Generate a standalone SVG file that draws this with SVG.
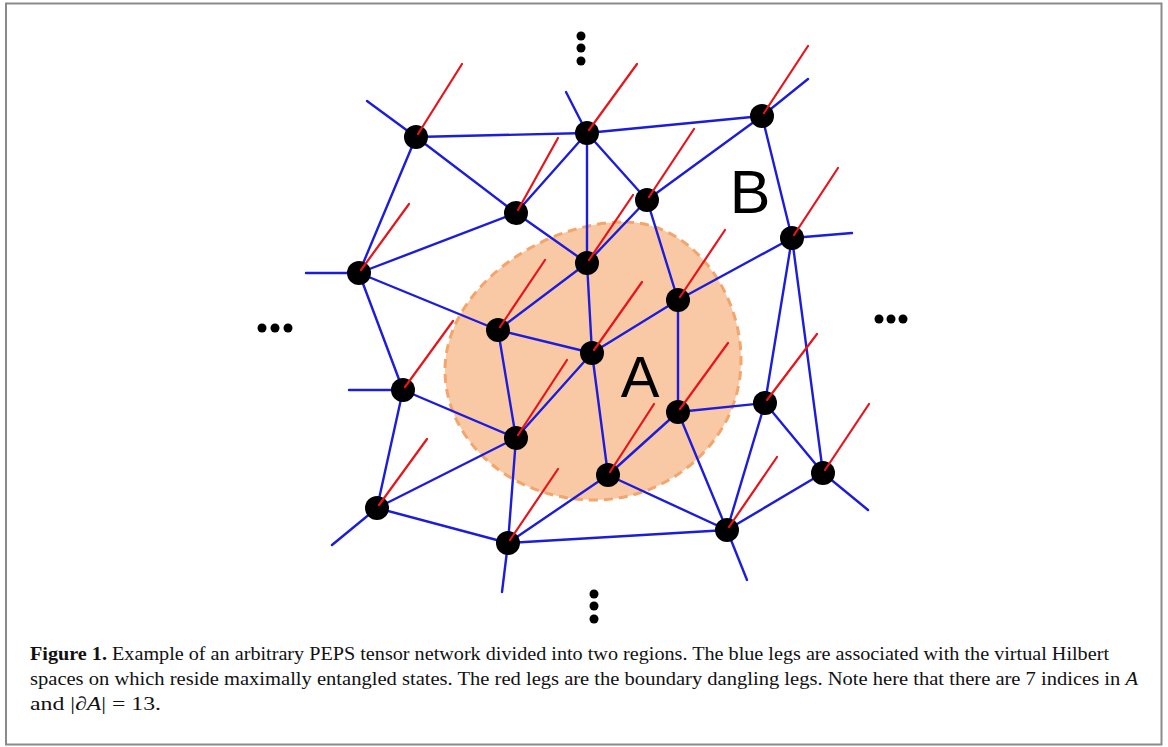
<svg xmlns="http://www.w3.org/2000/svg" width="1168" height="747" viewBox="0 0 1168 747">
<style>
.e{stroke:#1c1cdc;stroke-width:2.4;fill:none;stroke-linecap:round}
.r{stroke:#e8141a;stroke-width:2.2;fill:none;stroke-linecap:round}
.n{fill:#000}
.d{fill:#000}
.lbl{font-family:"Liberation Sans",Arial,sans-serif;fill:#000}
.cap{font-family:"Liberation Serif","Times New Roman",serif;font-size:19px;fill:#111}
</style>
<rect x="0" y="0" width="1168" height="747" fill="#fff"/>
<rect x="6" y="3.5" width="1155.5" height="741" fill="none" stroke="#8a8a8a" stroke-width="2"/>
<g id="regionA">
<path d="M625,222 C690,222 741,290 741,360 C741,440 670,500 595,500 C510,500 445,440 445,370 C445,290 540,222 625,222 Z" fill="#f9c9a6" stroke="#f3a56c" stroke-width="3" stroke-dasharray="9,6"/>
<text class="lbl" x="640" y="397" font-size="58" text-anchor="middle">A</text>
</g>
<text id="labelB" class="lbl" x="750" y="213" font-size="61" text-anchor="middle">B</text>
<g id="connectors">
<line class="e" x1="416" y1="137" x2="587" y2="133"/>
<line class="e" x1="587" y1="133" x2="762" y2="116"/>
<line class="e" x1="416" y1="137" x2="516" y2="213"/>
<line class="e" x1="416" y1="137" x2="359" y2="273"/>
<line class="e" x1="416" y1="137" x2="367" y2="101"/>
<line class="e" x1="587" y1="133" x2="566" y2="92"/>
<line class="e" x1="587" y1="133" x2="516" y2="213"/>
<line class="e" x1="587" y1="133" x2="587" y2="263"/>
<line class="e" x1="587" y1="133" x2="647" y2="200"/>
<line class="e" x1="762" y1="116" x2="647" y2="200"/>
<line class="e" x1="762" y1="116" x2="792" y2="238"/>
<line class="e" x1="762" y1="116" x2="808" y2="79"/>
<line class="e" x1="516" y1="213" x2="359" y2="273"/>
<line class="e" x1="516" y1="213" x2="587" y2="263"/>
<line class="e" x1="647" y1="200" x2="587" y2="263"/>
<line class="e" x1="647" y1="200" x2="678" y2="300"/>
<line class="e" x1="359" y1="273" x2="306" y2="273"/>
<line class="e" x1="359" y1="273" x2="498" y2="330"/>
<line class="e" x1="359" y1="273" x2="403" y2="390"/>
<line class="e" x1="587" y1="263" x2="498" y2="330"/>
<line class="e" x1="587" y1="263" x2="592" y2="353"/>
<line class="e" x1="792" y1="238" x2="678" y2="300"/>
<line class="e" x1="792" y1="238" x2="765" y2="403"/>
<line class="e" x1="792" y1="238" x2="823" y2="473"/>
<line class="e" x1="792" y1="238" x2="852" y2="233"/>
<line class="e" x1="678" y1="300" x2="592" y2="353"/>
<line class="e" x1="678" y1="300" x2="678" y2="412"/>
<line class="e" x1="498" y1="330" x2="592" y2="353"/>
<line class="e" x1="498" y1="330" x2="516" y2="438"/>
<line class="e" x1="592" y1="353" x2="516" y2="438"/>
<line class="e" x1="592" y1="353" x2="608" y2="475"/>
<line class="e" x1="403" y1="390" x2="349" y2="390"/>
<line class="e" x1="403" y1="390" x2="516" y2="438"/>
<line class="e" x1="403" y1="390" x2="377" y2="508"/>
<line class="e" x1="678" y1="412" x2="765" y2="403"/>
<line class="e" x1="678" y1="412" x2="608" y2="475"/>
<line class="e" x1="678" y1="412" x2="727" y2="530"/>
<line class="e" x1="765" y1="403" x2="823" y2="473"/>
<line class="e" x1="765" y1="403" x2="727" y2="530"/>
<line class="e" x1="516" y1="438" x2="377" y2="508"/>
<line class="e" x1="516" y1="438" x2="508" y2="543"/>
<line class="e" x1="608" y1="475" x2="508" y2="543"/>
<line class="e" x1="608" y1="475" x2="727" y2="530"/>
<line class="e" x1="823" y1="473" x2="727" y2="530"/>
<line class="e" x1="823" y1="473" x2="868" y2="510"/>
<line class="e" x1="377" y1="508" x2="508" y2="543"/>
<line class="e" x1="377" y1="508" x2="332" y2="545"/>
<line class="e" x1="508" y1="543" x2="727" y2="530"/>
<line class="e" x1="508" y1="543" x2="502" y2="592"/>
<line class="e" x1="727" y1="530" x2="747" y2="580"/>
</g>
<g id="nodes">
<g id="n1"><circle class="n" cx="416" cy="137" r="12"/><line class="r" x1="418" y1="134" x2="462" y2="64"/></g>
<g id="n2"><circle class="n" cx="587" cy="133" r="12"/><line class="r" x1="589" y1="130" x2="637" y2="64"/></g>
<g id="n3"><circle class="n" cx="762" cy="116" r="12"/><line class="r" x1="764" y1="113" x2="808" y2="46"/></g>
<g id="n4"><circle class="n" cx="516" cy="213" r="12"/><line class="r" x1="518" y1="210" x2="558" y2="138"/></g>
<g id="n5"><circle class="n" cx="647" cy="200" r="12"/><line class="r" x1="649" y1="197" x2="694" y2="129"/></g>
<g id="n6"><circle class="n" cx="359" cy="273" r="12"/><line class="r" x1="361" y1="270" x2="409" y2="204"/></g>
<g id="n7"><circle class="n" cx="587" cy="263" r="12"/><line class="r" x1="589" y1="260" x2="633" y2="195"/></g>
<g id="n8"><circle class="n" cx="792" cy="238" r="12"/><line class="r" x1="794" y1="235" x2="838" y2="168"/></g>
<g id="n9"><circle class="n" cx="678" cy="300" r="12"/><line class="r" x1="680" y1="297" x2="725" y2="230"/></g>
<g id="n10"><circle class="n" cx="498" cy="330" r="12"/><line class="r" x1="500" y1="327" x2="545" y2="260"/></g>
<g id="n11"><circle class="n" cx="592" cy="353" r="12"/><line class="r" x1="594" y1="350" x2="642" y2="282"/></g>
<g id="n12"><circle class="n" cx="403" cy="390" r="12"/><line class="r" x1="405" y1="387" x2="453" y2="321"/></g>
<g id="n13"><circle class="n" cx="678" cy="412" r="12"/><line class="r" x1="680" y1="409" x2="728" y2="343"/></g>
<g id="n14"><circle class="n" cx="765" cy="403" r="12"/><line class="r" x1="767" y1="400" x2="817" y2="334"/></g>
<g id="n15"><circle class="n" cx="516" cy="438" r="12"/><line class="r" x1="518" y1="435" x2="567" y2="360"/></g>
<g id="n16"><circle class="n" cx="608" cy="475" r="12"/><line class="r" x1="610" y1="472" x2="654" y2="404"/></g>
<g id="n17"><circle class="n" cx="823" cy="473" r="12"/><line class="r" x1="825" y1="470" x2="869" y2="404"/></g>
<g id="n18"><circle class="n" cx="377" cy="508" r="12"/><line class="r" x1="379" y1="505" x2="427" y2="439"/></g>
<g id="n19"><circle class="n" cx="508" cy="543" r="12"/><line class="r" x1="510" y1="540" x2="558" y2="469"/></g>
<g id="n20"><circle class="n" cx="727" cy="530" r="12"/><line class="r" x1="729" y1="527" x2="777" y2="457"/></g>
</g>
<g id="ellipses">
<circle class="d" cx="581" cy="36" r="4.5"/><circle class="d" cx="581" cy="48" r="4.5"/><circle class="d" cx="581" cy="61" r="4.5"/>
<circle class="d" cx="262" cy="328" r="4.5"/><circle class="d" cx="275" cy="328" r="4.5"/><circle class="d" cx="288" cy="328" r="4.5"/>
<circle class="d" cx="879" cy="319" r="4.5"/><circle class="d" cx="891" cy="319" r="4.5"/><circle class="d" cx="903" cy="319" r="4.5"/>
<circle class="d" cx="594" cy="594" r="4.5"/><circle class="d" cx="594" cy="606" r="4.5"/><circle class="d" cx="594" cy="619" r="4.5"/>
</g>
<g id="caption">
<text class="cap" x="30" y="660" textLength="1079" lengthAdjust="spacingAndGlyphs"><tspan font-weight="bold">Figure 1.</tspan> Example of an arbitrary PEPS tensor network divided into two regions. The blue legs are associated with the virtual Hilbert</text>
<text class="cap" x="30" y="685" textLength="1108" lengthAdjust="spacingAndGlyphs">spaces on which reside maximally entangled states. The red legs are the boundary dangling legs. Note here that there are 7 indices in <tspan font-style="italic">A</tspan></text>
<text class="cap" x="30" y="710" textLength="131" lengthAdjust="spacingAndGlyphs">and |<tspan font-style="italic">∂A</tspan>| = 13.</text>
</g>
</svg>
